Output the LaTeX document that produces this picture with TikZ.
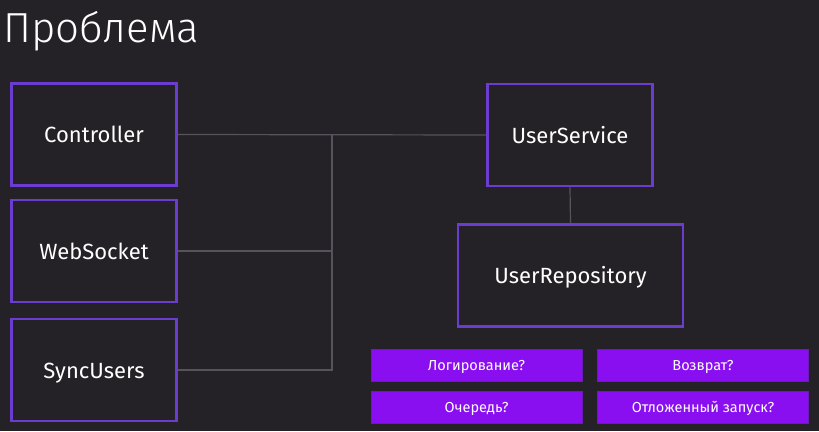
\documentclass[tikz,border=0pt]{standalone}
\usepackage{fontspec}
\setmainfont{Fira Sans}
\newfontfamily\lightfont{Fira Sans}[UprightFont={* Light}]
\usepackage{tikz}
\usetikzlibrary{calc,backgrounds}
\definecolor{bgdark}{HTML}{242227}
\definecolor{boxpurple}{HTML}{6B3CD0}
\definecolor{tagpurple}{HTML}{8A0FF0}
\definecolor{tagedge}{HTML}{6A1CB8}
\definecolor{linegray}{HTML}{56545A}

\begin{document}
\begin{tikzpicture}[x=1pt,y=-1pt,
  box/.style={draw=boxpurple,line width=2.6pt,minimum width=165pt,minimum height=102pt,
    inner sep=0pt,text height=16pt,text depth=0pt,text=white,font=\fontsize{22}{25}\selectfont},
  tag/.style={fill=tagpurple,draw=tagedge,line width=0.8pt,minimum width=211pt,minimum height=32pt,
    inner sep=0pt,text height=10.5pt,text depth=0pt,text=white,font=\fontsize{14.5}{16}\selectfont},
  link/.style={draw=linegray,line width=1.2pt}]
% background and page size
\fill[bgdark] (0,0) rectangle (819,431);
\useasboundingbox (0,0) rectangle (819,431);

\node[anchor=base west,text=white,inner sep=0pt,font=\lightfont\fontsize{42}{46}\selectfont] (title) at (3,42) {Проблема};

% callers
\node[box] (ctrl) at (94,134.5) {Controller};
\node[box] (ws) at (94,251) {WebSocket};
\node[box] (sync) at (94,370) {SyncUsers};

% service side
\node[box] (svc) at (570,135) {UserService};
\node[box,minimum width=225pt] (repo) at (570.5,275.5) {UserRepository};

\coordinate (jn) at (332,134.5);
\draw[link] (ctrl.east) -- (svc.west);
\draw[link] (ws.east) -| (jn);
\draw[link] (sync.east) -| (jn);
\draw[link] (svc.south) -- (repo.north);

% open questions
\node[tag] (log) at (476.5,365) {Логирование?};
\node[tag] (ret) at (703,365) {Возврат?};
\node[tag] (queue) at (476.5,407) {Очередь?};
\node[tag] (delay) at (703,407) {Отложенный запуск?};
\end{tikzpicture}
\end{document}
